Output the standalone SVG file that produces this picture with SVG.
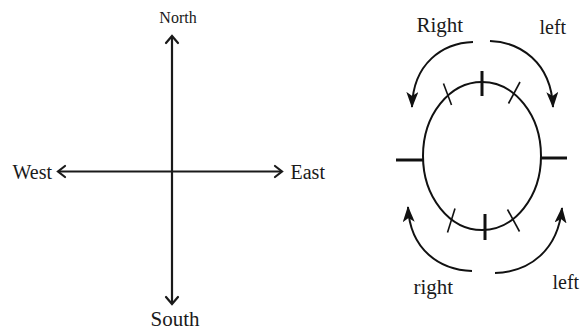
<svg xmlns="http://www.w3.org/2000/svg" width="582" height="330" viewBox="0 0 582 330">
<style>
text{font-family:"Liberation Serif","Times New Roman",serif;fill:#1a1a1a}
.ax{stroke:#1a1a1a;stroke-width:2.2;fill:none}
.chev{stroke:#1a1a1a;stroke-width:2.2;fill:none;stroke-linecap:round;stroke-linejoin:miter}
.el{stroke:#111;stroke-width:2;fill:none}
.tk{stroke:#111;stroke-width:3;fill:none}
.dt{stroke:#111;stroke-width:1.6;fill:none}
.arc{stroke:#111;stroke-width:2;fill:none}
</style>
<defs>
<marker id="ah" viewBox="0 0 16 12" refX="15" refY="6" markerWidth="16" markerHeight="12" markerUnits="userSpaceOnUse" orient="auto">
<path d="M0,0 L16,6 L0,12 L4,6 Z" fill="#111"/>
</marker>
</defs>
<rect width="582" height="330" fill="#ffffff"/>
<g id="compass">
<g id="connectors">
<line class="ax" x1="172" y1="36" x2="172" y2="304"/>
<line class="ax" x1="58" y1="171.5" x2="282" y2="171.5"/>
<polyline class="chev" points="166,43 172,36 178,43"/>
<polyline class="chev" points="166,297 172,304 178,297"/>
<polyline class="chev" points="65,166 58,171.5 65,177"/>
<polyline class="chev" points="275,166 282,171.5 275,177"/>
</g>
<g id="north"><text x="178" y="22.5" font-size="16" text-anchor="middle">North</text></g>
<g id="south"><text x="175" y="326" font-size="21" text-anchor="middle">South</text></g>
<g id="west"><text x="12.5" y="179" font-size="20">West</text></g>
<g id="east"><text x="290.5" y="178.5" font-size="20">East</text></g>
</g>
<g id="rotation">
<g id="ellipse">
<ellipse class="el" cx="482" cy="156" rx="59" ry="74"/>
<line class="tk" x1="396" y1="160" x2="423" y2="160"/>
<line class="tk" x1="541" y1="158" x2="567" y2="158"/>
<line class="tk" x1="482" y1="71" x2="482" y2="96"/>
<line class="tk" x1="485" y1="214" x2="485" y2="240"/>
<line class="dt" x1="443.5" y1="83.5" x2="451.5" y2="105"/>
<line class="dt" x1="520" y1="82" x2="508.5" y2="103.5"/>
<line class="dt" x1="455" y1="208.5" x2="447.5" y2="232.5"/>
<line class="dt" x1="507.5" y1="209.5" x2="519.5" y2="231.5"/>
</g>
<g id="arrows">
<path class="arc" d="M473,42 C443,43 413,63 412,107" marker-end="url(#ah)"/>
<path class="arc" d="M490,41 C520,42 551,62 553,107" marker-end="url(#ah)"/>
<path class="arc" d="M472,271 C440,270 410,250 408,207" marker-end="url(#ah)"/>
<path class="arc" d="M495,273 C530,272 558,250 562,208" marker-end="url(#ah)"/>
</g>
<g id="label-right-top"><text x="416.5" y="32" font-size="21">Right</text></g>
<g id="label-left-top"><text x="539.5" y="33.5" font-size="20">left</text></g>
<g id="label-right-bottom"><text x="413.5" y="293.5" font-size="21">right</text></g>
<g id="label-left-bottom"><text x="552.5" y="288.5" font-size="20">left</text></g>
</g>
</svg>
